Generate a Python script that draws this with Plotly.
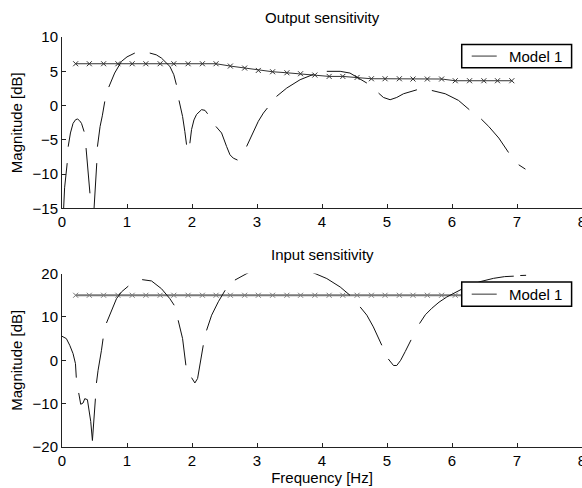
import plotly.graph_objects as go

# ---------------- data ----------------
# Output sensitivity (top) – measured curve, None = gap in the data
out_freq = [0.02, 0.04, 0.08, None,
            0.095, 0.13, 0.17, 0.21, 0.24, 0.27, 0.30, 0.34, None,
            0.37, 0.40, 0.43, None,
            0.49, 0.51, 0.535, None,
            0.545, 0.586, 0.62, 0.658, None,
            0.72, 0.81, 0.915, 1.0, 1.12, None,
            1.35, 1.45, 1.53, 1.66, 1.72, 1.76, None,
            1.80, 1.855, 1.89, 1.916, None,
            1.967, 1.993, 2.03, 2.07, 2.147, 2.20, 2.24, None,
            2.368, 2.455, 2.532, 2.584, 2.635, 2.687, 2.70, None,
            2.84, 2.94, 3.02, 3.098, 3.16, None,
            3.30, 3.457, 3.663, 3.80, 3.869, None,
            4.074, 4.28, 4.43, 4.56, 4.69, None,
            4.87, 4.945, 5.048, 5.15, 5.254, 5.357, 5.46, None,
            5.69, 5.896, 6.10, 6.266, None,
            6.45, 6.565, 6.72, 6.87, None,
            7.026, 7.13]
out_mag = [-16.0, -12.0, -8.4, None,
           -6.0, -4.0, -2.6, -2.05, -1.97, -2.2, -2.6, -3.8, None,
           -6.2, -9.5, -12.8, None,
           -15.5, -12.0, -8.4, None,
           -6.0, -3.05, -1.5, 0.6, None,
           2.7, 4.74, 6.44, 7.1, 7.66, None,
           7.66, 7.4, 6.93, 5.7, 4.5, 3.04, None,
           0.75, -1.6, -3.8, -5.7, None,
           -5.5, -3.5, -2.1, -1.3, -0.6, -0.7, -1.2, None,
           -3.05, -4.0, -5.97, -7.18, -7.67, -8.0, -7.95, None,
           -5.97, -4.0, -2.3, -1.1, -0.36, None,
           1.33, 2.55, 3.77, 4.3, 4.55, None,
           4.99, 4.99, 4.74, 4.0, 3.28, None,
           1.82, 1.18, 0.85, 1.18, 1.72, 2.06, 2.3, None,
           2.2, 1.72, 0.75, -0.6, None,
           -1.97, -3.05, -4.74, -6.85, None,
           -8.64, -9.28]

# Input sensitivity (bottom) – measured curve
in_freq = [0.0, 0.067, 0.119, 0.17, 0.207, 0.22, None,
           0.257, 0.288, 0.324, 0.35, 0.391, 0.417, 0.442, 0.468, 0.514, None,
           0.53, 0.555, 0.607, 0.632, None,
           0.684, 0.761, 0.838, 0.915, 1.02, None,
           1.233, 1.377, 1.531, 1.66, 1.726, None,
           1.787, 1.855, 1.906, None,
           1.993, 2.044, 2.086, 2.12, 2.173, None,
           2.224, 2.302, 2.405, 2.51, None,
           2.66, 2.84, 3.0, 3.3, 3.6, 3.894, 4.074, 4.28, 4.43, None,
           4.587, 4.69, 4.79, 4.92, None,
           5.02, 5.10, 5.15, 5.21, 5.28, 5.37, None,
           5.50, 5.59, 5.69, 5.80, 5.92, 6.03, 6.20, 6.35, 6.45, 6.64, 6.81, 6.95, None,
           7.05, 7.14]
in_mag = [5.54, 5.0, 3.46, 1.54, -0.77, -4.0, None,
          -7.54, -10.15, -9.85, -8.85, -9.08, -11.5, -14.1, -18.5, -8.85, None,
          -5.23, -2.3, 2.3, 5.0, None,
          8.6, 11.54, 14.2, 15.77, 17.1, None,
          18.6, 18.3, 16.5, 14.2, 12.7, None,
          9.23, 5.0, -1.15, None,
          -4.0, -5.23, -4.2, -0.77, 3.46, None,
          6.9, 10.4, 13.5, 16.15, None,
          18.5, 20.0, 21.3, 22.5, 21.8, 20.0, 18.85, 16.9, 15.0, None,
          12.3, 10.4, 7.7, 3.46, None,
          0.3, -1.2, -1.2, 0.0, 2.0, 4.7, None,
          8.46, 10.5, 12.0, 13.4, 14.6, 15.5, 16.8, 17.7, 18.2, 18.9, 19.3, 19.4, None,
          19.55, 19.6]

# reference (x-marked) lines
ref_freq = [0.21, 0.42, 0.64, 0.86, 1.08, 1.29, 1.51, 1.72, 1.94, 2.16, 2.37,
            2.59, 2.81, 3.02, 3.24, 3.46, 3.67, 3.89, 4.11, 4.32, 4.54, 4.76,
            4.97, 5.19, 5.40, 5.62, 5.84, 6.05, 6.27, 6.49, 6.70, 6.92]
ref_out = [6.1, 6.1, 6.1, 6.1, 6.1, 6.1, 6.1, 6.1, 6.1, 6.1, 6.1,
           5.76, 5.47, 5.12, 4.93, 4.78, 4.64, 4.45, 4.25, 4.25, 4.1, 3.91,
           3.91, 3.91, 3.87, 3.87, 3.87, 3.62, 3.62, 3.62, 3.62, 3.62]
ref_in = [15.0] * 32

x_ticks = [0, 1, 2, 3, 4, 5, 6, 7, 8]
out_ticks = [-15, -10, -5, 0, 5, 10]
in_ticks = [-20, -10, 0, 10, 20]

legend_name = "Model 1"

# ---------------- figure ----------------
FONT = "Liberation Sans, Arial, sans-serif"
FS = 15

fig = go.Figure()

fig.add_trace(go.Scatter(x=ref_freq, y=ref_out, mode="lines+markers",
                         line=dict(color="#333333", width=1),
                         marker=dict(symbol="x-thin-open", size=5,
                                     line=dict(color="#333333", width=1)),
                         showlegend=False, xaxis="x", yaxis="y"))
fig.add_trace(go.Scatter(x=out_freq, y=out_mag, mode="lines", name=legend_name,
                         line=dict(color="#111111", width=1),
                         connectgaps=False, showlegend=False,
                         xaxis="x", yaxis="y"))

fig.add_trace(go.Scatter(x=ref_freq, y=ref_in, mode="lines+markers",
                         line=dict(color="#7a7a7a", width=2),
                         marker=dict(symbol="x-thin-open", size=5,
                                     line=dict(color="#333333", width=1)),
                         showlegend=False, xaxis="x2", yaxis="y2"))
fig.add_trace(go.Scatter(x=in_freq, y=in_mag, mode="lines", name=legend_name,
                         line=dict(color="#111111", width=1),
                         connectgaps=False, showlegend=False,
                         xaxis="x2", yaxis="y2"))

axis_common = dict(showgrid=False, zeroline=False, showline=True,
                   linecolor="#222222", linewidth=1, ticks="inside",
                   ticklen=4, tickcolor="#222222", mirror=False,
                   automargin=False, ticklabeloverflow="allow",
                   tickfont=dict(family=FONT, size=FS, color="black"))

top_dom = [0.582, 1.0]
bot_dom = [0.0, 0.423]

# legend boxes (paper coordinates), MATLAB-style
shapes = []
annotations = []
for (ytop, ybot) in [(0.982, 0.925), (0.4024, 0.3432)]:
    yc = (ytop + ybot) / 2
    shapes.append(dict(type="rect", xref="paper", yref="paper",
                       x0=0.7687, x1=0.980, y0=ybot, y1=ytop,
                       fillcolor="white", line=dict(color="black", width=1.5),
                       layer="above"))
    shapes.append(dict(type="line", xref="paper", yref="paper",
                       x0=0.7879, x1=0.8360, y0=yc, y1=yc,
                       line=dict(color="#333333", width=1), layer="above"))
    annotations.append(dict(text=legend_name, x=0.8560, y=yc, xref="paper",
                            yref="paper", xanchor="left", yanchor="middle",
                            showarrow=False, font=dict(family=FONT, size=FS)))

annotations += [
    dict(text="Output sensitivity", x=0.5, y=1.0, xref="paper", yref="paper",
         xanchor="center", yanchor="bottom", yshift=9, showarrow=False,
         font=dict(family=FONT, size=FS)),
    dict(text="Input sensitivity", x=0.5, y=0.423, xref="paper", yref="paper",
         xanchor="center", yanchor="bottom", yshift=9, showarrow=False,
         font=dict(family=FONT, size=FS)),
]

fig.update_layout(
    width=582, height=488,
    margin=dict(l=62, r=0, t=37, b=41),
    paper_bgcolor="white", plot_bgcolor="white",
    font=dict(family=FONT, size=FS, color="black"),
    showlegend=False,
    xaxis=dict(range=[0, 8], tickvals=x_ticks, domain=[0, 1], anchor="y",
               **axis_common),
    yaxis=dict(range=[-15, 10], tickvals=out_ticks, domain=top_dom, anchor="x",
               title=dict(text="Magnitude [dB]", standoff=6,
                          font=dict(family=FONT, size=FS)),
               **axis_common),
    xaxis2=dict(range=[0, 8], tickvals=x_ticks, domain=[0, 1], anchor="y2",
                title=dict(text="Frequency [Hz]", standoff=0,
                           font=dict(family=FONT, size=FS)),
                **axis_common),
    yaxis2=dict(range=[-20, 20], tickvals=in_ticks, domain=bot_dom, anchor="x2",
                title=dict(text="Magnitude [dB]", standoff=6,
                           font=dict(family=FONT, size=FS)),
                **axis_common),
    shapes=shapes,
    annotations=annotations,
)

fig.write_html("out.html",
               config={"displayModeBar": False},
               post_script="document.body.style.margin='0';"
                           "document.body.style.overflow='hidden';")
